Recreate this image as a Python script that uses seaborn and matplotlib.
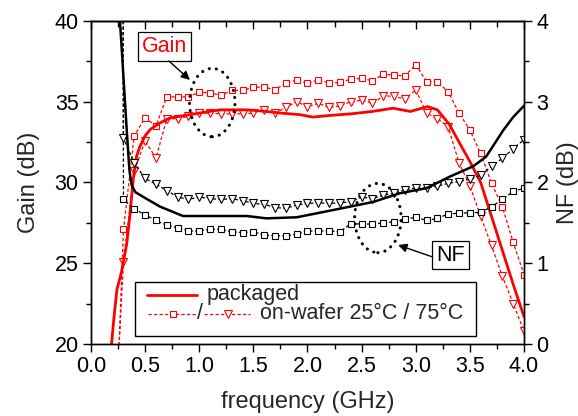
import matplotlib
matplotlib.use("Agg")
import matplotlib.pyplot as plt
import seaborn as sns
import numpy as np
from matplotlib.patches import Ellipse, Rectangle
from matplotlib.lines import Line2D
from matplotlib.ticker import MultipleLocator

# ---------------- data ----------------
# packaged gain (solid red)
freq_pkg_gain = [0.18, 0.19, 0.21, 0.24, 0.28, 0.33, 0.36, 0.39, 0.42, 0.45, 0.50, 0.55,
                 0.64, 0.73, 0.91, 1.19, 1.44, 1.62, 1.75, 1.93, 2.05, 2.20, 2.40, 2.60,
                 2.79, 2.95, 3.11, 3.20, 3.31, 3.40, 3.50, 3.60, 3.70, 3.80, 3.90, 4.00]
gain_pkg = [19.3, 20.0, 21.5, 23.4, 24.4, 26.2, 28.0, 30.2, 31.6, 32.2, 32.9, 33.3,
            33.7, 34.0, 34.2, 34.5, 34.5, 34.4, 34.3, 34.2, 34.05, 34.15, 34.25, 34.4,
            34.6, 34.4, 34.7, 34.5, 33.6, 32.5, 31.3, 30.0, 27.9, 25.8, 23.7, 21.7]

# packaged NF (solid black)
freq_pkg_nf = [0.25, 0.27, 0.30, 0.33, 0.355, 0.375, 0.41, 0.51, 0.64, 0.75, 0.85, 1.13,
               1.44, 1.62, 1.90, 2.24, 2.61, 2.85, 3.10, 3.31, 3.53, 3.65, 3.81, 3.90, 4.00]
nf_pkg = [4.4, 3.95, 3.3, 2.65, 2.15, 1.97, 1.88, 1.80, 1.70, 1.64, 1.585, 1.585,
          1.585, 1.556, 1.569, 1.66, 1.76, 1.866, 1.93, 2.07, 2.20, 2.32, 2.65, 2.81, 2.95]

# on-wafer measurements (0.2 .. 4.0 GHz, 0.1 GHz step)
freq_wafer = [0.2, 0.3, 0.4, 0.5, 0.6, 0.7, 0.8, 0.9, 1.0, 1.1, 1.2, 1.3, 1.4,
              1.5, 1.6, 1.7, 1.8, 1.9, 2.0, 2.1, 2.2, 2.3, 2.4, 2.5, 2.6, 2.7,
              2.8, 2.9, 3.0, 3.1, 3.2, 3.3, 3.4, 3.5, 3.6, 3.7, 3.8, 3.9, 4.0]
gain_25 = [9.4, 27.1, 32.9, 34.0, 33.5, 35.3, 35.3, 35.3, 35.6, 35.55, 35.4, 35.7, 35.7,
           35.9, 35.9, 35.75, 36.15, 36.35, 36.15, 36.35, 36.15, 36.2, 36.4, 36.45, 36.3, 36.7,
           36.65, 36.6, 37.3, 36.25, 36.25, 35.6, 34.3, 33.25, 31.8, 29.95, 28.5, 26.3, 24.3]
gain_75 = [12.3, 25.1, 30.7, 32.6, 31.5, 33.95, 33.95, 34.1, 34.3, 34.3, 34.25, 34.25, 34.25,
           34.3, 34.5, 34.3, 34.65, 35.0, 34.7, 34.9, 34.65, 34.75, 35.0, 35.1, 34.9, 35.35,
           35.35, 35.15, 35.75, 34.3, 33.95, 33.45, 31.2, 29.8, 27.9, 26.1, 24.2, 22.5, 20.8]
nf_25 = [60.0, 1.79, 1.67, 1.60, 1.53, 1.47, 1.44, 1.40, 1.40, 1.42, 1.42, 1.39, 1.38,
         1.39, 1.35, 1.34, 1.34, 1.36, 1.40, 1.40, 1.40, 1.39, 1.49, 1.485, 1.485, 1.50,
         1.515, 1.545, 1.57, 1.53, 1.555, 1.61, 1.62, 1.625, 1.63, 1.70, 1.79, 1.89, 1.93]
nf_75 = [60.0, 2.55, 2.24, 2.05, 1.98, 1.90, 1.82, 1.79, 1.82, 1.80, 1.79, 1.80, 1.775,
         1.74, 1.73, 1.69, 1.68, 1.72, 1.74, 1.75, 1.74, 1.75, 1.76, 1.82, 1.80, 1.845,
         1.865, 1.91, 1.93, 1.93, 1.955, 1.99, 2.01, 2.04, 2.09, 2.20, 2.30, 2.42, 2.53]

x_ticks = [0.0, 0.5, 1.0, 1.5, 2.0, 2.5, 3.0, 3.5, 4.0]
gain_ticks = [20, 25, 30, 35, 40]
nf_ticks = [0, 1, 2, 3, 4]

# ---------------- style ----------------
sns.set_theme(style="ticks")
plt.rcParams['font.family'] = ['Liberation Sans', 'DejaVu Sans']
plt.rcParams['axes.linewidth'] = 1.0
plt.rcParams['xtick.color'] = 'black'
plt.rcParams['ytick.color'] = 'black'

RED = '#ff0000'
BLK = '#000000'
TICK_FS = 15.5
LAB_FS = 17

fig = plt.figure(figsize=(5.78, 4.16), dpi=100)
ax = fig.add_axes([0.15744, 0.17308, 0.74913, 0.77644])
ax2 = ax.twinx()

dash = (0, (2.6, 1.8))
mk_sq = dict(marker='s', markersize=4.3, markerfacecolor='white', markeredgewidth=0.8)
mk_tr = dict(marker='v', markersize=6.0, markerfacecolor='white', markeredgewidth=0.8)

# gain (left axis)
sns.lineplot(x=freq_wafer, y=gain_25, ax=ax, sort=False, estimator=None, color=RED,
             lw=0.9, linestyle=dash, markeredgecolor=RED, **mk_sq)
sns.lineplot(x=freq_wafer, y=gain_75, ax=ax, sort=False, estimator=None, color=RED,
             lw=0.9, linestyle=dash, markeredgecolor=RED, **mk_tr)
sns.lineplot(x=freq_pkg_gain, y=gain_pkg, ax=ax, sort=False, estimator=None, color=RED,
             lw=2.0)

# NF (right axis)
sns.lineplot(x=freq_wafer, y=nf_25, ax=ax2, sort=False, estimator=None, color=BLK,
             lw=0.9, linestyle=dash, markeredgecolor=BLK, **mk_sq)
sns.lineplot(x=freq_wafer, y=nf_75, ax=ax2, sort=False, estimator=None, color=BLK,
             lw=0.9, linestyle=dash, markeredgecolor=BLK, **mk_tr)
sns.lineplot(x=freq_pkg_nf, y=nf_pkg, ax=ax2, sort=False, estimator=None, color=BLK,
             lw=1.8)

# axes limits / ticks
ax.set_xlim(0, 4)
ax.set_ylim(20, 40)
ax2.set_ylim(0, 4)
ax.set_xticks(x_ticks)
ax.set_xticklabels([f"{v:.1f}" for v in x_ticks])
ax.set_yticks(gain_ticks)
ax2.set_yticks(nf_ticks)
ax.xaxis.set_minor_locator(MultipleLocator(0.25))
ax.yaxis.set_minor_locator(MultipleLocator(2.5))
ax2.yaxis.set_minor_locator(MultipleLocator(0.5))

for a in (ax, ax2):
    for s in a.spines.values():
        s.set_visible(True)
        s.set_color('black')
        s.set_linewidth(1.0)

ax.tick_params(axis='both', which='major', direction='out', length=6, width=1.0,
               labelsize=TICK_FS, pad=3)
ax.tick_params(axis='both', which='minor', direction='out', length=3.5, width=1.0)
ax2.tick_params(axis='y', which='major', direction='out', length=6, width=1.0,
                labelsize=TICK_FS, pad=3)
ax2.tick_params(axis='y', which='minor', direction='out', length=3.5, width=1.0)

sec = ax.secondary_xaxis('top')
sec.set_xticks(x_ticks)
sec.xaxis.set_minor_locator(MultipleLocator(0.25))
sec.tick_params(axis='x', which='major', direction='in', length=6, width=1.0, labeltop=False)
sec.tick_params(axis='x', which='minor', direction='in', length=4, width=1.0)
sec.spines['top'].set_linewidth(1.0)

ax.set_xlabel('frequency (GHz)', fontsize=LAB_FS, labelpad=10)
ax.set_ylabel('Gain (dB)', fontsize=LAB_FS, labelpad=10)
ax2.set_ylabel('NF (dB)', fontsize=LAB_FS, labelpad=6, rotation=90)

# dotted ellipses
for (cx, cy, w, h) in [(1.12, 34.95, 0.42, 4.24), (2.65, 27.8, 0.43, 4.29)]:
    e = Ellipse((cx, cy), width=w, height=h, fill=False, edgecolor=BLK, lw=2.2,
                linestyle=(0, (0.05, 2.3)), zorder=5)
    e.set_capstyle('round')
    ax.add_patch(e)

# annotations
box = dict(boxstyle='square,pad=0.18', facecolor='white', edgecolor='black', lw=0.9)
ax.text(0.68, 38.42, 'Gain', color=RED, fontsize=15.5, ha='center', va='center',
        bbox=box, zorder=6)
ax.text(3.32, 25.51, 'NF', color=BLK, fontsize=15.5, ha='center', va='center',
        bbox=box, zorder=6)
arrow = dict(arrowstyle='-|>', color='black', lw=1.0, mutation_scale=13,
             shrinkA=0, shrinkB=0)
ax.annotate('', xy=(0.914, 36.35), xytext=(0.72, 37.52), arrowprops=arrow, zorder=6)
ax.annotate('', xy=(2.837, 26.13), xytext=(3.146, 25.41), arrowprops=arrow, zorder=6)

# legend (manual, to reproduce the composite second entry)
T = ax2.transAxes
ax2.add_patch(Rectangle((0.1016, 0.0248), 0.7874, 0.1672, transform=T,
                        facecolor='white', edgecolor='black', lw=1.0, zorder=10))
y1, y2 = 0.1517, 0.0929
ax2.add_line(Line2D([0.129, 0.245], [y1, y1], transform=T, color=RED, lw=2.0, zorder=11))
ax2.text(0.266, y1, 'packaged', transform=T, fontsize=15.5, va='center', ha='left', zorder=11)
ax2.add_line(Line2D([0.1316, 0.243], [y2, y2], transform=T, color=RED, lw=0.9,
                    linestyle=dash, zorder=11))
ax2.add_line(Line2D([0.1887], [y2], transform=T, color=RED, markeredgecolor=RED,
                    linestyle='none', zorder=12, **mk_sq))
ax2.text(0.2517, y2, '/', transform=T, fontsize=15.5, va='center', ha='center', zorder=11)
ax2.add_line(Line2D([0.262, 0.367], [y2, y2], transform=T, color=RED, lw=0.9,
                    linestyle=dash, zorder=11))
ax2.add_line(Line2D([0.317], [y2], transform=T, color=RED, markeredgecolor=RED,
                    linestyle='none', zorder=12, **mk_tr))
ax2.text(0.390, y2, 'on-wafer 25°C / 75°C', transform=T, fontsize=15.5, va='center',
         ha='left', zorder=11)

fig.savefig('out.png', dpi=100)
